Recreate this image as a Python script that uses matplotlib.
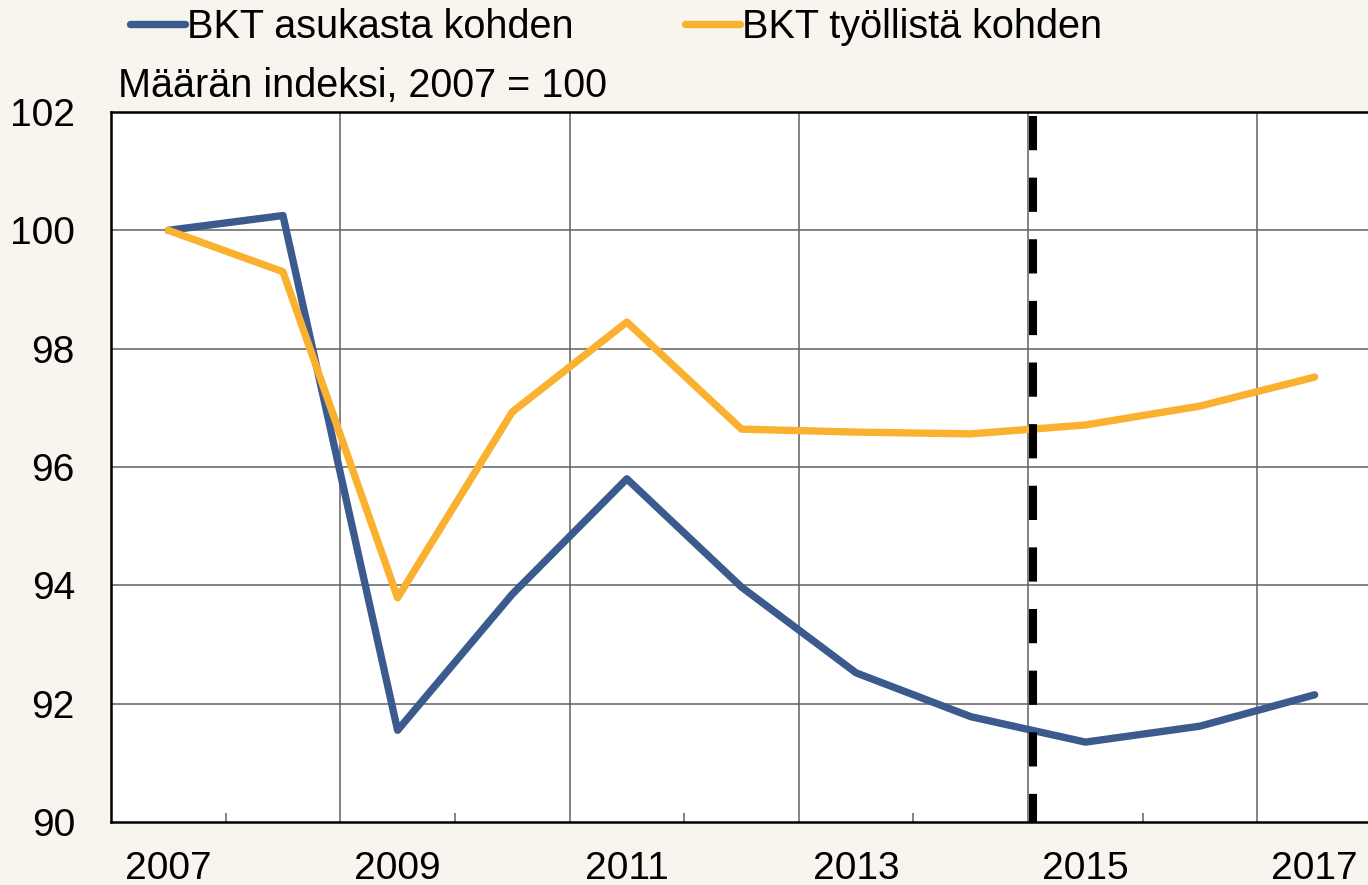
import numpy as np
import matplotlib
matplotlib.use("Agg")
import matplotlib.pyplot as plt

plt.rcParams['font.family'] = ['Liberation Sans', 'DejaVu Sans']

# data
years = [2007, 2008, 2009, 2010, 2011, 2012, 2013, 2014, 2015, 2016, 2017]
per_capita = [100.0, 100.25, 91.55, 93.85, 95.8, 93.97, 92.52, 91.78, 91.35, 91.62, 92.15]
per_employed = [100.0, 99.3, 93.79, 96.93, 98.45, 96.64, 96.59, 96.56, 96.71, 97.03, 97.52]
series_names = ['BKT asukasta kohden', 'BKT työllistä kohden']
ylabel_text = 'Määrän indeksi, 2007 = 100'
forecast_start = 7.54  # dashed line, between 2014 and 2015

blue = '#3b5a8e'
orange = '#fbb130'
bg = '#f8f4ee'

fig = plt.figure(figsize=(13.68, 8.85), dpi=100, facecolor=bg)
ax = fig.add_axes([111/1368, 1-822/885, (1372-111)/1368, (822-112)/885])
ax.set_facecolor('white')

x = np.arange(len(years))
ax.plot(x, per_capita, color=blue, lw=5.3, label=series_names[0],
        solid_joinstyle='round', solid_capstyle='round', zorder=3)
ax.plot(x, per_employed, color=orange, lw=5.3, label=series_names[1],
        solid_joinstyle='round', solid_capstyle='round', zorder=4)

ax.set_xlim(-0.5, len(years) - 0.5)
ax.set_ylim(90, 102)

# grid
ax.set_yticks(np.arange(90, 103, 2))
for yv in np.arange(92, 102, 2):
    ax.axhline(yv, color='#606060', lw=1.1, zorder=1)
for b in np.arange(1.5, len(years) - 0.5, 2):
    ax.axvline(b, color='#606060', lw=1.1, zorder=1)

# dashed line
ax.plot([forecast_start, forecast_start], [101.93, 90], color='black', lw=5.8,
        dashes=(4.25, 3.4), dash_capstyle='butt', zorder=5)

ax.set_xticks(x[::2])
ax.set_xticklabels([str(y) for y in years[::2]])
ax.set_xticks(np.arange(0.5, len(years) - 0.5, 2), minor=True)
ax.tick_params(axis='x', which='major', length=0, pad=21, labelsize=28)
ax.tick_params(axis='x', which='minor', direction='in', length=6.5, width=1.1, color='#606060')
ax.tick_params(axis='y', length=0, pad=26, labelsize=28)

for s in ['left', 'bottom', 'top']:
    ax.spines[s].set_color('black')
    ax.spines[s].set_linewidth(1.8)
ax.spines['right'].set_visible(False)

fig.text(118/1368, 1-97/885, ylabel_text, fontsize=28.5, va='baseline', ha='left')

fig.legend(loc='center', bbox_to_anchor=(616/1368, 1-27/885), ncol=2, frameon=False,
           fontsize=28.5, handlelength=1.39, handletextpad=0.05, columnspacing=2.8,
           borderpad=0, borderaxespad=0)

fig.savefig('out.png', dpi=100, facecolor=bg)
